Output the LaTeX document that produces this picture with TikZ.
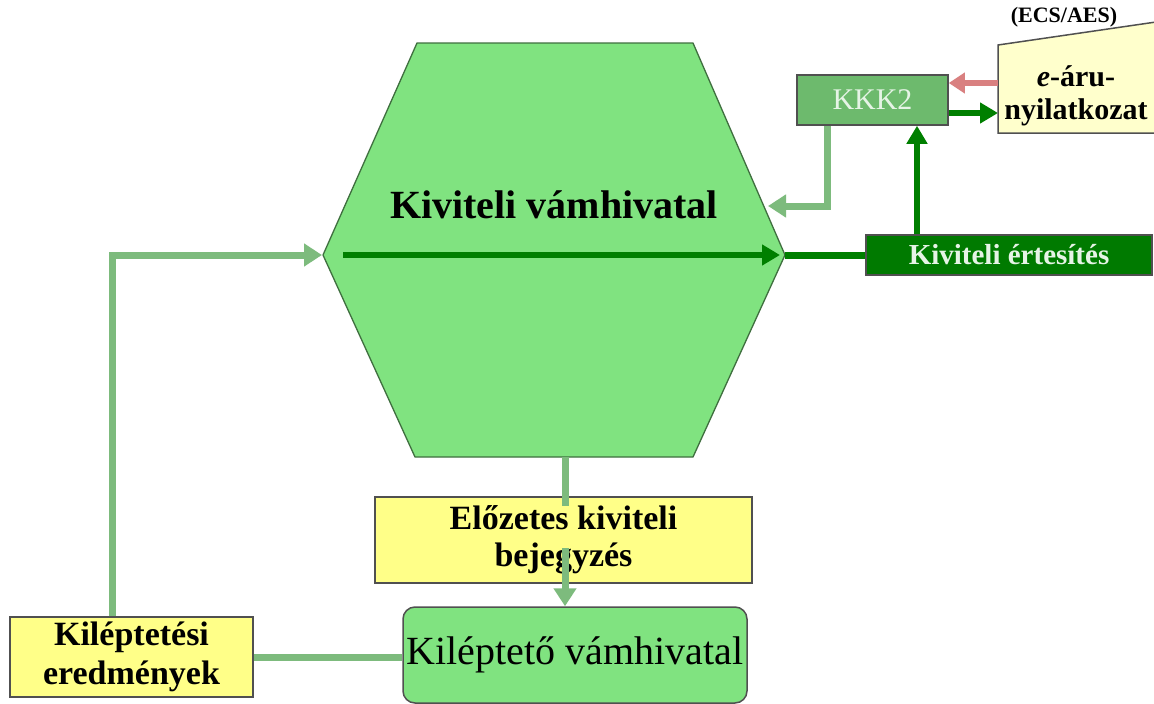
\documentclass[tikz,border=0pt]{standalone}
\usepackage{fontspec}
\setmainfont{Liberation Serif}
\usetikzlibrary{arrows.meta}
\definecolor{hexfill}{HTML}{80E380}
\definecolor{hexdraw}{HTML}{3F6F3F}
\definecolor{dkgreen}{HTML}{007F00}
\definecolor{palegreen}{HTML}{7DBB7D}
\definecolor{kkkfill}{HTML}{6DBA6D}
\definecolor{ertfill}{HTML}{007A00}
\definecolor{yel}{HTML}{FFFF88}
\definecolor{lightyel}{HTML}{FFFFCC}
\definecolor{pinkred}{HTML}{D98080}
\definecolor{boxdraw}{HTML}{505050}
\definecolor{lighttext}{HTML}{E6F4E6}
\begin{document}
\begin{tikzpicture}[x=1pt,y=-1pt,
  boxstyle/.style={draw=boxdraw,line width=1.5pt,inner sep=0pt,align=center},
  dkarrow/.style={draw=dkgreen,line width=6pt,-{Triangle[width=20pt,length=18pt]}},
  palearrow/.style={draw=palegreen,line width=7pt,-{Triangle[width=22pt,length=18pt]}},
  paleline/.style={draw=palegreen,line width=7pt},
  redarrow/.style={draw=pinkred,line width=6pt,-{Triangle[width=20pt,length=16pt]}}]
\useasboundingbox[fill=white] (0,0) rectangle (1154,704);

% hexagon
\draw[fill=hexfill,draw=hexdraw,line width=1.3pt]
  (417,43) -- (693,43) -- (785,255) -- (693,457) -- (415,457) -- (323,255) -- cycle;
\node[font=\fontsize{40}{44}\selectfont\bfseries] (kv) at (554,205) {Kiviteli vámhivatal};
\coordinate (inL) at (343,255);
\coordinate (inR) at (780,255);
\coordinate (hexR) at (785,255);
\coordinate (hexL) at (322,255);
\coordinate (hexB) at (565,457);

% KKK2
\node[boxstyle,fill=kkkfill,minimum width=151pt,minimum height=50pt,text=lighttext,
  font=\fontsize{30}{32}\selectfont] (kkk) at (872.5,100) {KKK2};

% e-aru box
\draw[fill=lightyel,draw=boxdraw,line width=1.5pt] (1156,22) -- (998,45) -- (998,133) -- (1156,133);
\node[align=center,font=\fontsize{30}{33}\selectfont\bfseries] (earu) at (1076,96)
  {\textit{e}-áru-\\nyilatkozat};
\node[font=\fontsize{22}{24}\selectfont\bfseries] (ecs) at (1064,17) {(ECS/AES)};
\coordinate (earuT) at (998,83);
\coordinate (earuB) at (998,113);

% Kiviteli ertesites
\node[boxstyle,fill=ertfill,minimum width=286pt,minimum height=40pt,text=lighttext,
  font=\fontsize{29}{31}\selectfont\bfseries] (ert) at (1009,255) {Kiviteli értesítés};

% Elozetes
\node[boxstyle,fill=yel,minimum width=377pt,minimum height=86pt,
  font=\fontsize{34}{37}\selectfont\bfseries] (elo) at (563.5,540) {Előzetes kiviteli\\bejegyzés};

% Kileptető vamhivatal
\node[draw=boxdraw,line width=1.5pt,fill=hexfill,rounded corners=12pt,minimum width=344pt,
  minimum height=96pt,inner sep=0pt,font=\fontsize{40}{44}\selectfont] (kv2) at (575,655)
  {Kiléptető vámhivatal};

% Kileptetesi eredmenyek
\node[boxstyle,fill=yel,minimum width=243pt,minimum height=80pt,
  font=\fontsize{34}{39}\selectfont\bfseries] (kil) at (131.5,657) {Kiléptetési\\eredmények};

% connectors
\draw[dkarrow] (inL) -- (inR);
\draw[draw=dkgreen,line width=7pt] (hexR) -- (ert.west);
\coordinate (up) at (917,0);
\draw[dkarrow] (ert.north -| up) -- (up |- kkk.south);
\draw[dkarrow] (kkk.east |- earuB) -- (earuB);
\draw[redarrow] (earuT) -- (kkk.east |- earuT);
\coordinate (dn) at (827,0);
\coordinate (kin) at (768,206);
\draw[palearrow] (dn |- kkk.south) -- (dn |- kin) -- (kin);
\coordinate (fb) at (112,0);
\draw[palearrow] (fb |- kil.north) -- (fb |- hexL) -- (hexL);
\coordinate (m1) at (565,506);
\coordinate (m2) at (565,548);
\draw[paleline] (hexB) -- (m1);
\draw[palearrow] (m2) -- (hexB |- kv2.north);
\draw[paleline] (kil.east) -- (kil.east -| kv2.west);
\end{tikzpicture}
\end{document}
